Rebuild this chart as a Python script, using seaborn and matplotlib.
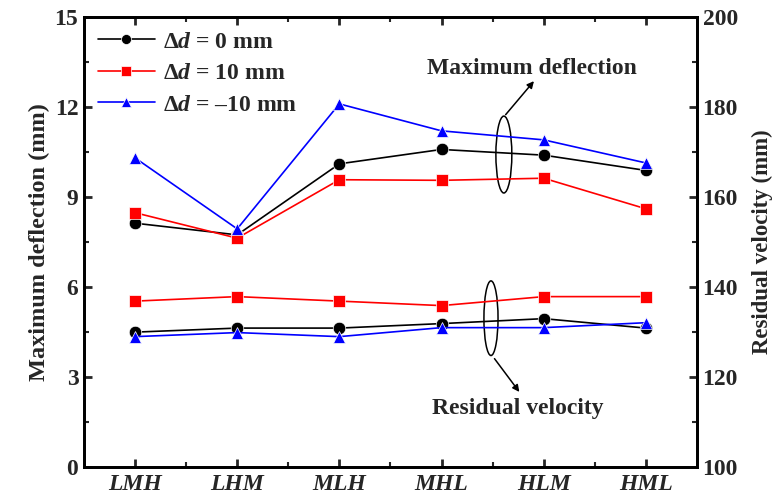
import numpy as np
import pandas as pd
import matplotlib
matplotlib.use("Agg")
import matplotlib.pyplot as plt
from matplotlib.patches import Ellipse
from matplotlib.ticker import MultipleLocator
import seaborn as sns

# datos
cases = ["LMH", "LHM", "MLH", "MHL", "HLM", "HML"]
series = [r"$\Delta d$ = 0 mm", r"$\Delta d$ = 10 mm", r"$\Delta d$ = –10 mm"]

defl_0 = [8.12, 7.73, 10.10, 10.58, 10.39, 9.88]
defl_p10 = [8.47, 7.62, 9.57, 9.55, 9.62, 8.60]
defl_m10 = [10.30, 7.93, 12.10, 11.20, 10.90, 10.13]

vel_0 = [129.9, 130.8, 130.8, 131.8, 132.9, 130.8]
vel_p10 = [136.8, 137.8, 136.8, 135.8, 137.8, 137.8]
vel_m10 = [128.9, 129.8, 128.9, 130.9, 130.9, 132.0]

colors = ["black", "red", "blue"]
markers = ["o", "s", "^"]

sns.set_theme(style="ticks")
plt.rcParams["font.family"] = ["Liberation Serif", "DejaVu Serif"]
plt.rcParams["font.weight"] = "bold"
plt.rcParams["mathtext.fontset"] = "custom"
plt.rcParams["mathtext.rm"] = "Liberation Serif:bold"
plt.rcParams["mathtext.it"] = "Liberation Serif:bold:italic"
plt.rcParams["mathtext.bf"] = "Liberation Serif:bold"


def long_df(vals):
    rows = []
    for s, v in zip(series, vals):
        for c, y in zip(cases, v):
            rows.append({"case": c, "serie": s, "y": y})
    return pd.DataFrame(rows)


df_defl = long_df([defl_0, defl_p10, defl_m10])
df_vel = long_df([vel_0, vel_p10, vel_m10])

fig, ax = plt.subplots(figsize=(7.77, 4.99), dpi=100)
fig.subplots_adjust(left=0.108, right=0.897, top=0.966, bottom=0.065)
ax2 = ax.twinx()

pal = dict(zip(series, colors))
mk = dict(zip(series, markers))
kw = dict(x="case", y="y", hue="serie", style="serie", palette=pal, markers=mk,
          dashes=False, markersize=9, linewidth=1.2, markeredgewidth=0.5)
sns.lineplot(data=df_defl, ax=ax, **kw)
sns.lineplot(data=df_vel, ax=ax2, legend=False, **kw)

ax.set_xlim(-0.5, 5.5)
ax.set_ylim(0, 15)
ax2.set_ylim(100, 200)
ax.yaxis.set_major_locator(MultipleLocator(3))
ax.yaxis.set_minor_locator(MultipleLocator(1.5))
ax2.yaxis.set_major_locator(MultipleLocator(20))
ax2.yaxis.set_minor_locator(MultipleLocator(10))
ax.set_xticks(range(len(cases)))
ax.set_xticks(np.arange(0.5, 5, 1), minor=True)
ax.set_xticklabels(cases, fontstyle="italic", fontweight="bold", fontsize=17)

ax.set_xlabel("")
ax.set_ylabel("Maximum deflection (mm)", fontsize=17.5, fontweight="bold", labelpad=3)
ax2.set_ylabel("Residual velocity (mm)", fontsize=16.5, fontweight="bold", labelpad=10)

for a in (ax, ax2):
    for sp in a.spines.values():
        sp.set_linewidth(2)
        sp.set_color("black")
ax.tick_params(axis="both", which="major", direction="in", length=6, width=2,
               labelsize=17, top=True, right=False, pad=4)
ax.tick_params(axis="x", which="major", pad=5)
ax.tick_params(axis="both", which="minor", direction="in", length=3.5, width=1.5,
               top=True, right=False)
ax2.tick_params(axis="y", which="major", direction="in", length=6, width=2,
                labelsize=17, pad=4)
ax2.tick_params(axis="y", which="minor", direction="in", length=3.5, width=1.5)
for lab in ax.get_yticklabels() + ax2.get_yticklabels():
    lab.set_fontweight("bold")

leg = ax.legend(loc="upper left", frameon=False, fontsize=17, handlelength=2.4,
                borderaxespad=0.2, labelspacing=0.42, handletextpad=0.35,
                markerscale=0.8)
leg.set_title(None)

# elipses y flechas
tr = ax.transAxes
ax.add_patch(Ellipse((0.685, 0.694), 0.026, 0.171, transform=tr, fill=False,
                     lw=1.1, color="black"))
ax.annotate("", xy=(0.737, 0.862), xytext=(0.685, 0.778), xycoords=tr,
            arrowprops=dict(arrowstyle="-|>", color="black", lw=1.1, mutation_scale=10))
ax.text(0.731, 0.885, "Maximum deflection", transform=tr, ha="center", va="center",
        fontsize=17, fontweight="bold")
ax.add_patch(Ellipse((0.664, 0.330), 0.023, 0.166, transform=tr, fill=False,
                     lw=1.1, color="black"))
ax.annotate("", xy=(0.713, 0.161), xytext=(0.667, 0.245), xycoords=tr,
            arrowprops=dict(arrowstyle="-|>", color="black", lw=1.1, mutation_scale=10))
ax.text(0.708, 0.130, "Residual velocity", transform=tr, ha="center", va="center",
        fontsize=17, fontweight="bold")

fig.savefig("out.png", dpi=100)
